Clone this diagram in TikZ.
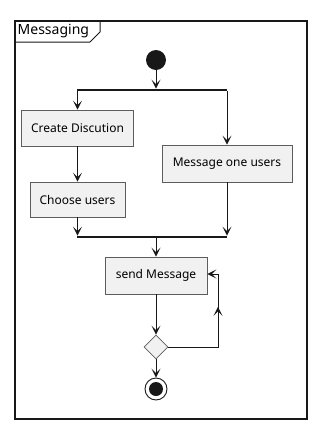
\documentclass[tikz,border=0pt]{standalone}
\usepackage{fontspec}
\setmainfont{Noto Sans}
\usetikzlibrary{arrows.meta,calc,shapes.geometric}
\definecolor{boxfill}{HTML}{F1F1F1}
\definecolor{ink}{HTML}{181818}
\begin{document}
\begin{tikzpicture}[
        x=1pt, y=-1pt,
        >={Stealth[length=9pt, width=9pt, inset=4.5pt]},
        action/.style={draw=ink!70, line width=0.6pt, fill=boxfill, font=\fontsize{12}{14}\selectfont,
            inner sep=0pt},
        bar/.style={fill=ink, inner sep=0pt, minimum height=2.2pt},
        flow/.style={->, draw=ink, line width=1pt}
    ]
        \useasboundingbox (0,0) rectangle (317,429);
        % frame with title tab
        \draw[ink, line width=1.3pt] (15,21) rectangle (307,419);
        \draw[ink, line width=1pt] (15,42) -- (90,42) -- (100,32) -- (100,21);
        \node[anchor=west, font=\fontsize{14}{16}\selectfont, inner sep=0pt] (title) at (17.5,31.5) {Messaging};

        \node[circle, fill=ink, minimum size=20pt, inner sep=0pt] (start) at (156,60) {};
        \node[bar, minimum width=150pt] (fork) at (152,90) {};
        \node[action, minimum width=112pt, minimum height=36pt] (create) at (77.5,128) {Create Discution};
        \node[action, minimum width=95pt, minimum height=35pt] (choose) at (77.5,199.5) {Choose users};
        \node[action, minimum width=130pt, minimum height=37pt] (msg) at (227,163.5) {Message one users};
        \node[bar, minimum width=150pt] (join) at (152,237) {};
        \node[action, minimum width=102pt, minimum height=37pt] (send) at (156,275.5) {send Message};
        \node[diamond, draw=ink!70, line width=0.6pt, fill=boxfill, minimum size=24pt, inner sep=0pt,
            shape aspect=1] (check) at (156,347) {};
        \node[circle, draw=ink, line width=0.9pt, minimum size=22pt, inner sep=0pt] (stop) at (156,389) {};
        \node[circle, fill=ink, minimum size=14pt, inner sep=0pt] at (stop) {};
        \coordinate (lpbot) at (218,347);
        \coordinate (lptop) at (218,274);

        \draw[flow] (start) -- (start |- fork.north);
        \draw[flow] (fork.south -| create) -- (create);
        \draw[flow] (fork.south -| msg) -- (msg);
        \draw[flow] (create) -- (choose);
        \draw[flow] (choose) -- (choose |- join.north);
        \draw[flow] (msg) -- (msg |- join.north);
        \draw[flow] (join.south -| send) -- (send);
        \draw[flow] (send) -- (check);
        \draw[flow] (check) -- (stop);
        \draw[flow] (check.east) -- (lpbot) -- ($(lpbot)!0.55!(lptop)$);
        \draw[flow] ($(lpbot)!0.5!(lptop)$) -- (lptop) -- (send.east |- lptop);
    \end{tikzpicture}
\end{document}
